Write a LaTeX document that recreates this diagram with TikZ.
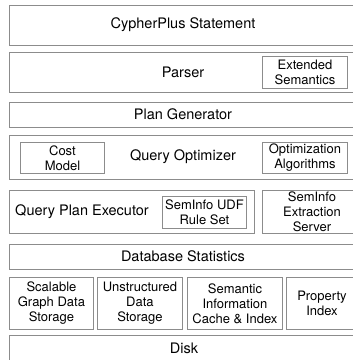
\documentclass[tikz,border=0pt]{standalone}
\usepackage{fontspec}
\setmainfont{TeX Gyre Heros}
\definecolor{linegray}{HTML}{8C8C8C}
\begin{document}
\begin{tikzpicture}[x=1pt,y=-1pt,
  layer/.style={draw=linegray, line width=0.9pt, inner sep=0pt, anchor=north west},
  bigtext/.style={inner sep=0pt, font=\fontsize{14.5}{17}\selectfont},
  smalltext/.style={inner sep=0pt, align=center, font=\fontsize{13}{15}\selectfont}]
\useasboundingbox (0,0) rectangle (353,360);
% top of the stack
\node[layer, minimum width=348, minimum height=40] (stmt) at (9,5) {};
\node[bigtext] (stmtlbl) at (183,25) {CypherPlus Statement};
% parser
\node[layer, minimum width=348, minimum height=40] (parser) at (9,52) {};
\node[bigtext] (parserlbl) at (183,72) {Parser};
\node[layer, minimum width=85, minimum height=32] (extsem) at (262,56) {};
\node[smalltext] (extsemlbl) at (extsem.center) {Extended\\Semantics};
% plan generator
\node[layer, minimum width=348, minimum height=25] (plangen) at (9,102) {};
\node[bigtext] (plangenlbl) at (183,114.5) {Plan Generator};
% optimizer
\node[layer, minimum width=348, minimum height=44] (optim) at (9,135) {};
\node[bigtext] (optimlbl) at (183,157) {Query Optimizer};
\node[layer, minimum width=84, minimum height=31] (cost) at (20,142) {};
\node[smalltext] (costlbl) at (cost.center) {Cost\\Model};
\node[layer, minimum width=85, minimum height=31] (optalg) at (262,142) {};
\node[smalltext] (optalglbl) at (optalg.center) {Optimization\\Algorithms};
% executor
\node[layer, minimum width=245, minimum height=43] (exec) at (9,190) {};
\node[bigtext] (execlbl) at (82,212) {Query Plan Executor};
\node[layer, minimum width=84, minimum height=32] (udf) at (162,196) {};
\node[smalltext] (udflbl) at (udf.center) {SemInfo UDF\\Rule Set};
\node[layer, minimum width=100, minimum height=43] (extract) at (262,190) {};
\node[smalltext] (extractlbl) at (312,212) {SemInfo\\Extraction\\Server};
% statistics
\node[layer, minimum width=348, minimum height=25] (stats) at (9,244) {};
\node[bigtext] (statslbl) at (183,256.5) {Database Statistics};
% storage
\node[layer, minimum width=84, minimum height=52] (graphst) at (9,277) {};
\node[smalltext] (graphstlbl) at (graphst.center) {Scalable\\Graph Data\\Storage};
\node[layer, minimum width=85, minimum height=52] (unstr) at (97,277) {};
\node[smalltext] (unstrlbl) at (unstr.center) {Unstructured\\Data\\Storage};
\node[layer, minimum width=95, minimum height=52] (semcache) at (187,277) {};
\node[smalltext] (semcachelbl) at (semcache.center) {Semantic\\Information\\Cache \& Index};
\node[layer, minimum width=72, minimum height=52] (propidx) at (286,277) {};
\node[smalltext] (propidxlbl) at (322,303) {Property\\Index};
% disk
\node[layer, minimum width=348, minimum height=35] (disk) at (9,335) {};
\node[bigtext] (disklbl) at (184,348) {Disk};
\end{tikzpicture}
\end{document}
